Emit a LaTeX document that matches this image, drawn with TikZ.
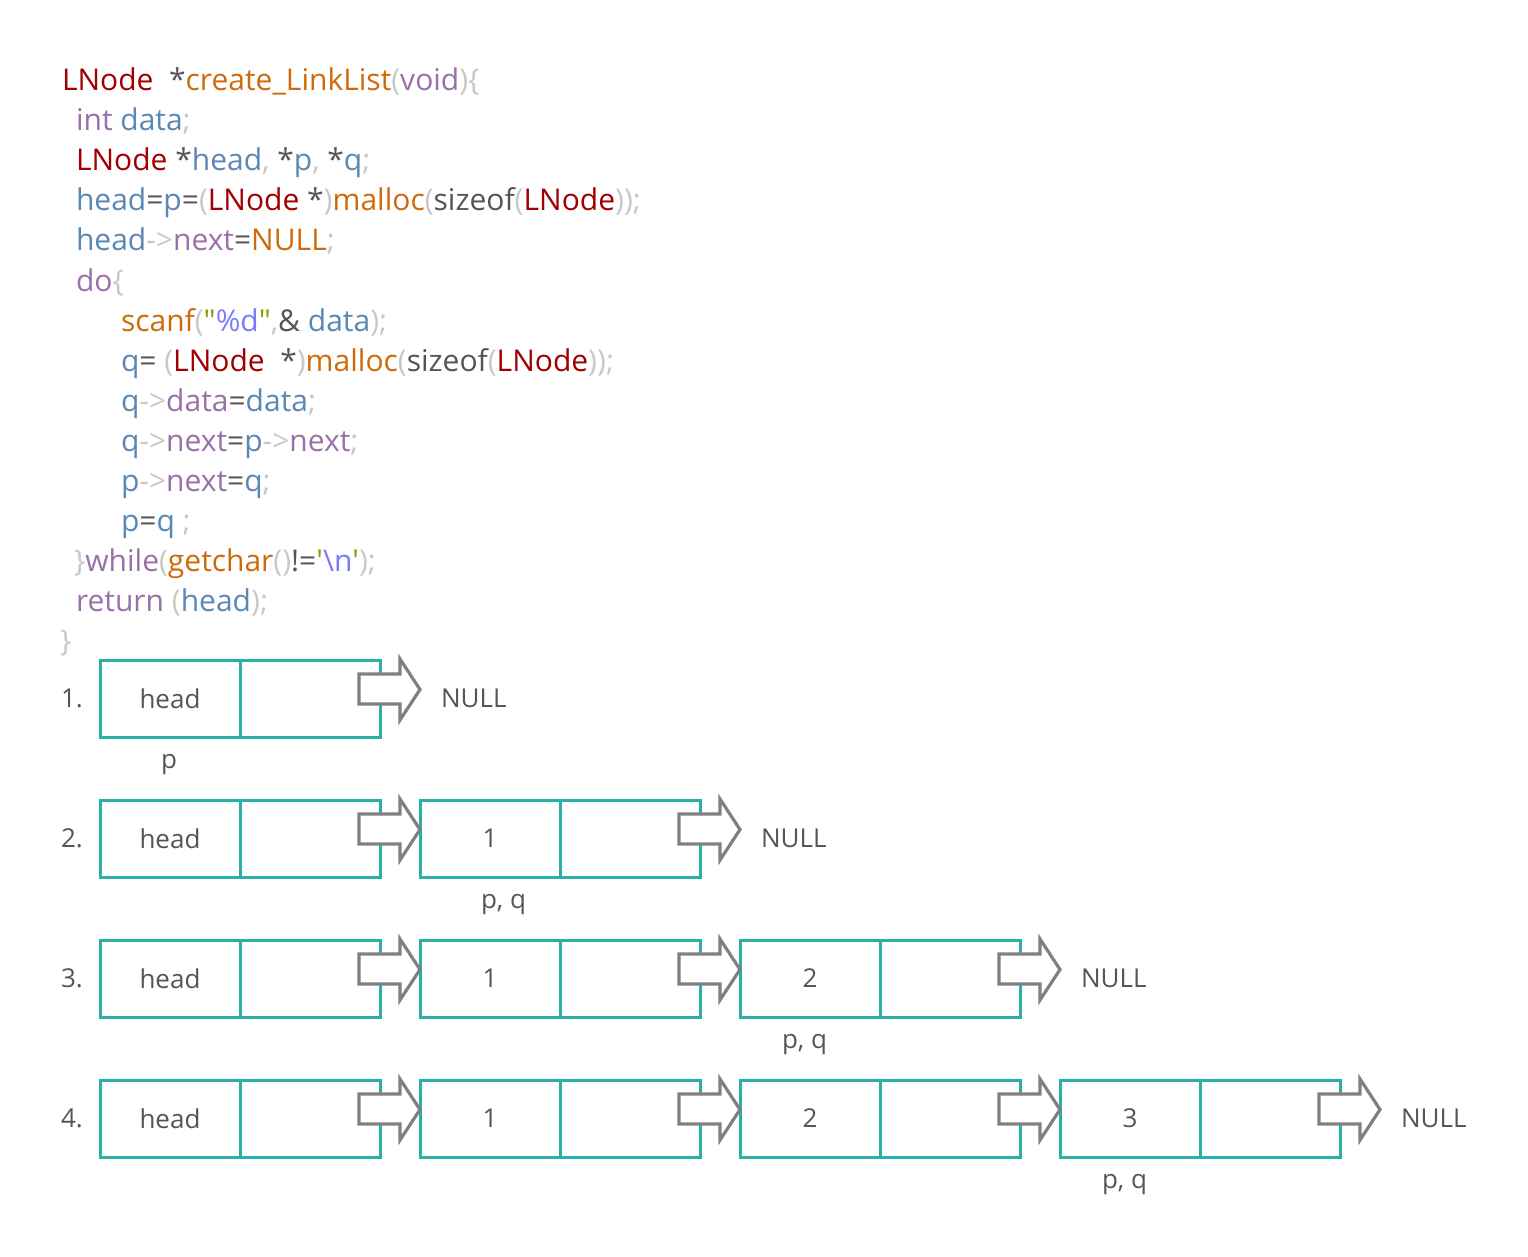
\documentclass[tikz,border=0pt]{standalone}
\usepackage{fontspec}
\newfontfamily\codefont{Open Sans}
\usetikzlibrary{calc}
\definecolor{cdred}{HTML}{A00000}
\definecolor{cdora}{HTML}{CF6A0A}
\definecolor{cdpur}{HTML}{9A70A8}
\definecolor{cdblu}{HTML}{5A87B5}
\definecolor{cdlgr}{HTML}{C8C8C8}
\definecolor{cddgr}{HTML}{555555}
\definecolor{cdgrn}{HTML}{8A9A00}
\definecolor{cdlav}{HTML}{7A7AFF}
\definecolor{boxteal}{HTML}{2AAFA9}
\definecolor{arrgray}{HTML}{808080}
\definecolor{dtext}{HTML}{555555}
\newcommand\cdRed[1]{\textcolor{cdred}{#1}}
\newcommand\cdOra[1]{\textcolor{cdora}{#1}}
\newcommand\cdPur[1]{\textcolor{cdpur}{#1}}
\newcommand\cdBlu[1]{\textcolor{cdblu}{#1}}
\newcommand\cdLgr[1]{\textcolor{cdlgr}{#1}}
\newcommand\cdDgr[1]{\textcolor{cddgr}{#1}}
\newcommand\cdGrn[1]{\textcolor{cdgrn}{#1}}
\newcommand\cdLav[1]{\textcolor{cdlav}{#1}}
\newcommand\BlkArr[1]{%
  \draw[blkarrow] ($(#1.north east)+(-21,14)$) -- ++(41,0) -- ++(0,-15) -- ++(20,30.5) -- ++(-20,30.5) -- ++(0,-16) -- ++(-41,0) -- cycle;}
\begin{document}
\begin{tikzpicture}[x=1pt,y=-1pt,
  codeline/.style={anchor=base west, inner sep=0pt, outer sep=0pt, font=\codefont\fontsize{30}{34}\selectfont},
  cell/.style={draw=boxteal, line width=3pt, minimum width=140pt, minimum height=77pt, inner sep=0pt, outer sep=0pt, text=dtext, font=\codefont\fontsize{26}{30}\selectfont},
  dlabel/.style={inner sep=0pt, outer sep=0pt, text=dtext, font=\codefont\fontsize{26}{30}\selectfont},
  blkarrow/.style={draw=arrgray, fill=white, line width=3.2pt, line join=miter}]
\useasboundingbox (0,0) rectangle (1528,1257);
% code
\node[codeline] (code1) at (62,91) {\cdRed{LNode}\ \ \cdDgr{*}\cdOra{create\_LinkList}\cdLgr{(}\cdPur{void}\cdLgr{)\{}};
\node[codeline] (code2) at (76,131) {\cdPur{int} \cdBlu{data}\cdLgr{;}};
\node[codeline] (code3) at (76,171) {\cdRed{LNode} \cdDgr{*}\cdBlu{head}\cdLgr{,} \cdDgr{*}\cdBlu{p}\cdLgr{,} \cdDgr{*}\cdBlu{q}\cdLgr{;}};
\node[codeline] (code4) at (76,211) {\cdBlu{head}\cdDgr{=}\cdBlu{p}\cdDgr{=}\cdLgr{(}\cdRed{LNode} \cdDgr{*}\cdLgr{)}\cdOra{malloc}\cdLgr{(}\cdDgr{sizeof}\cdLgr{(}\cdRed{LNode}\cdLgr{));}};
\node[codeline] (code5) at (76,251) {\cdBlu{head}\cdLgr{->}\cdPur{next}\cdDgr{=}\cdOra{NULL}\cdLgr{;}};
\node[codeline] (code6) at (76,291) {\cdPur{do}\cdLgr{\{}};
\node[codeline] (code7) at (121,331) {\cdOra{scanf}\cdLgr{(}\cdGrn{"}\cdLav{\%d}\cdGrn{"}\cdLgr{,}\cdDgr{\&} \cdBlu{data}\cdLgr{);}};
\node[codeline] (code8) at (121,371) {\cdBlu{q}\cdDgr{=} \cdLgr{(}\cdRed{LNode}\ \ \cdDgr{*}\cdLgr{)}\cdOra{malloc}\cdLgr{(}\cdDgr{sizeof}\cdLgr{(}\cdRed{LNode}\cdLgr{));}};
\node[codeline] (code9) at (121,411) {\cdBlu{q}\cdLgr{->}\cdPur{data}\cdDgr{=}\cdBlu{data}\cdLgr{;}};
\node[codeline] (code10) at (121,451) {\cdBlu{q}\cdLgr{->}\cdPur{next}\cdDgr{=}\cdBlu{p}\cdLgr{->}\cdPur{next}\cdLgr{;}};
\node[codeline] (code11) at (121,491) {\cdBlu{p}\cdLgr{->}\cdPur{next}\cdDgr{=}\cdBlu{q}\cdLgr{;}};
\node[codeline] (code12) at (121,531) {\cdBlu{p}\cdDgr{=}\cdBlu{q} \cdLgr{;}};
\node[codeline] (code13) at (74,571) {\cdLgr{\}}\cdPur{while}\cdLgr{(}\cdOra{getchar}\cdLgr{()}\cdDgr{!=}\cdGrn{'}\cdLav{\textbackslash n}\cdGrn{'}\cdLgr{);}};
\node[codeline] (code14) at (76,611) {\cdPur{return} \cdLgr{(}\cdBlu{head}\cdLgr{);}};
\node[codeline] (code15) at (60,651) {\cdLgr{\}}};
% rows
\foreach \r in {1,...,4} {
  \pgfmathsetmacro{\ry}{660+140*(\r-1)+38.5}
  \node[dlabel, anchor=west] (num\r) at (61,\ry) {\r.};
  \foreach \c in {1,...,\r} {
    \pgfmathsetmacro{\cx}{170+320*(\c-1)}
    \pgfmathtruncatemacro{\val}{\c-1}
    \ifnum\c=1
      \node[cell] (a\r\c) at (\cx,\ry) {head};
    \else
      \node[cell] (a\r\c) at (\cx,\ry) {\val};
    \fi
    \node[cell, anchor=west] (b\r\c) at (a\r\c.east) {};
  }
}
% arrows (drawn after boxes so they overlap)
\foreach \r in {1,...,4} {
  \foreach \c in {1,...,\r} {
    \BlkArr{b\r\c}
  }
  \node[dlabel, anchor=west] (null\r) at ($(b\r\r.east)+(61,0)$) {NULL};
}
% pointer labels
\node[dlabel, anchor=base west] (lp1) at ($(a11.south)+(-9,31)$) {p};
\node[dlabel, anchor=base west] (lp2) at ($(a22.south)+(-9,31)$) {p, q};
\node[dlabel, anchor=base west] (lp3) at ($(a33.south)+(-28,31)$) {p, q};
\node[dlabel, anchor=base west] (lp4) at ($(a44.south)+(-28,31)$) {p, q};
\end{tikzpicture}
\end{document}
